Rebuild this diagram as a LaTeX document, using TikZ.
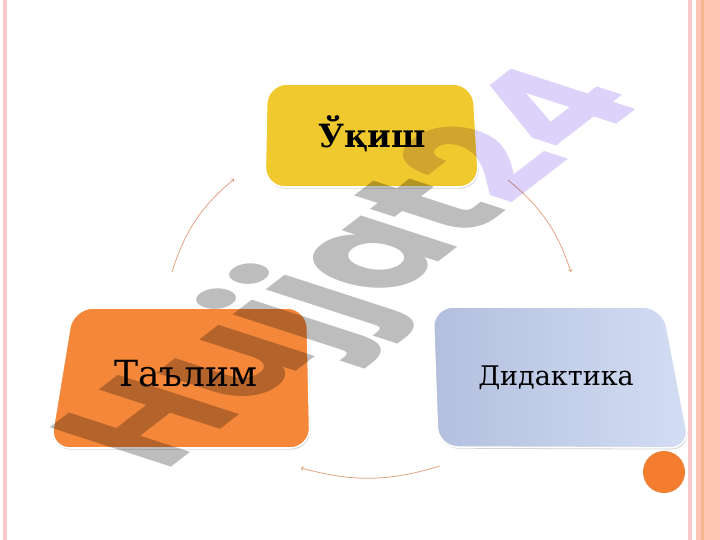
\documentclass[tikz,border=0pt]{standalone}
\usepackage{fontspec}
\setmainfont{DejaVu Serif}
\newfontfamily\markfont{Poppins}
\usepackage{xcolor}
\usepackage{tikz}
\usetikzlibrary{shadows}

\definecolor{framepink}{HTML}{F9C8C8}
\definecolor{framesalmon}{HTML}{FCC6B2}
\definecolor{framestripe}{HTML}{F4B48E}
\definecolor{dotorange}{HTML}{F57D30}
\definecolor{cardyellow}{HTML}{F0C92F}
\definecolor{cardorange}{HTML}{F4873A}
\definecolor{cardblueL}{HTML}{B3BFDD}
\definecolor{cardblueR}{HTML}{D3DDF4}
\definecolor{arcbrown}{HTML}{E3A484}
\definecolor{markgray}{HTML}{BDBDBD}
\definecolor{marklilac}{HTML}{DCD2FA}

\begin{document}
\begin{tikzpicture}[x=1pt, y=-1pt,
        cardbox/.style={draw=white, line width=1.6pt, rounded corners=20pt,
            drop shadow={opacity=0.35, shadow xshift=0.8pt, shadow yshift=-1.6pt}},
        cycarrow/.style={draw=arcbrown, line width=0.8pt, ->}]
        \useasboundingbox (0,0) rectangle (720,540);

        % Slide frame
        \fill[white] (0,0) rectangle (720,540);
        \fill[framepink] (3,0) rectangle (7,540);
        \fill[framepink] (688,0) rectangle (692,540);
        \fill[framesalmon] (696,0) rectangle (720,540);
        \fill[framestripe] (701,0) rectangle (704,540);

        % Bullet dot
        \fill[dotorange] (664,472) circle (21pt);

        % Reading
        \path[cardbox, fill=cardyellow] (267,84) -- (473,84) -- (479,187) -- (265,187) -- cycle;
        \node[font=\bfseries\fontsize{32}{38}\selectfont] (ukish) at (372,134) {Ўқиш};

        % Didactics
        \path[cardbox, left color=cardblueL, right color=cardblueR] (433,307) -- (663,307) -- (690,448) -- (438,447) -- cycle;
        \node[font=\fontsize{27}{32}\selectfont] (didaktika) at (556,378) {Дидактика};

        % Education
        \path[cardbox, fill=cardorange] (73,308) -- (307,308) -- (310,448) -- (50,448) -- cycle;
        \node[font=\fontsize{36}{42}\selectfont] (talim) at (186,374) {Таълим};

        % Cycle arrows
        \coordinate (talimout) at (172,272);
        \coordinate (ukishin) at (234,179);
        \coordinate (ukishout) at (508,180);
        \coordinate (didaktikain) at (571,272);
        \coordinate (didaktikaout) at (440,466);
        \coordinate (talimin) at (301,468);
        \draw[cycarrow] (talimout) to[bend left=16] (ukishin);
        \draw[cycarrow] (ukishout) to[bend left=16] (didaktikain);
        \draw[cycarrow] (didaktikaout) to[bend left=16] (talimin);

        % Watermark
        \begin{scope}[blend mode=multiply]
        \node[font=\markfont\bfseries\fontsize{103}{103}\selectfont, xscale=2, rotate=57] (wmark) at (361,271)
            {\textcolor{markgray}{Hujjat}\textcolor{marklilac}{24}};
        \end{scope}
    \end{tikzpicture}
\end{document}
